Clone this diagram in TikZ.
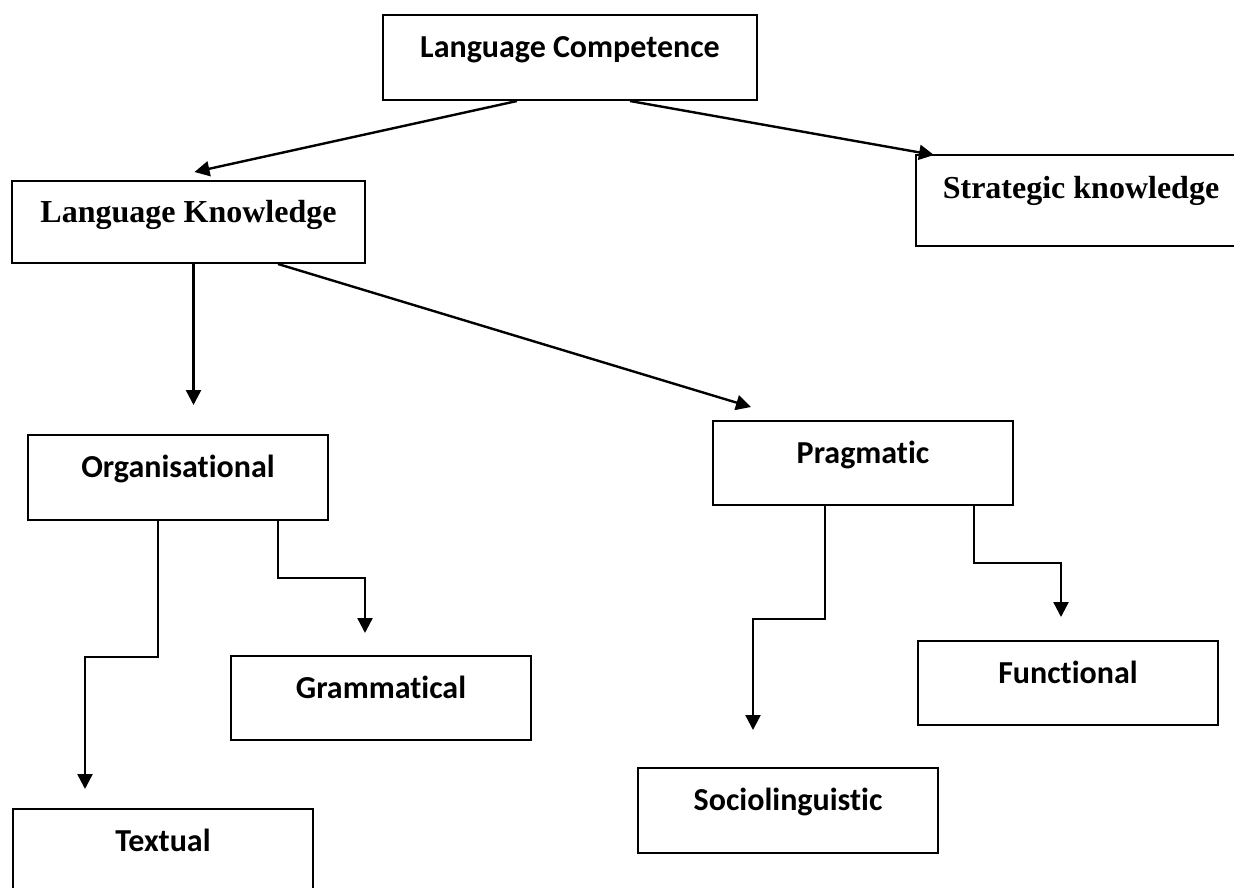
\documentclass[tikz,border=0pt]{standalone}
\usepackage{fontspec}
\setmainfont{Liberation Serif}
\newfontfamily\calfont[Ligatures=NoCommon]{Carlito}
\usetikzlibrary{arrows.meta}
\begin{document}
\begin{tikzpicture}[x=1pt,y=-1pt,
  box/.style={draw, line width=2pt, inner sep=0pt, anchor=north west,
    text height=42pt, text depth=43pt, align=center},
  calbox/.style={box, font=\calfont\bfseries\fontsize{32}{36}\selectfont},
  serbox/.style={box, font=\bfseries\fontsize{32}{36}\selectfont},
  arr/.style={line width=2.4pt, -{Triangle[length=15pt,width=15pt]}}]
\useasboundingbox[fill=white] (0,0) rectangle (1234,887);
\node[calbox, minimum width=374pt] (lc) at (382,14) {Language Competence};
\node[serbox, minimum width=353pt, text height=41pt, text depth=41pt] (lk) at (11,180) {Language Knowledge};
\node[serbox, minimum width=330pt, text height=43pt, text depth=48pt] (sk) at (915,154) {Strategic knowledge};
\node[calbox, minimum width=300pt] (org) at (27,434) {Organisat\kern0pt ional};
\node[calbox, minimum width=300pt, text depth=42pt] (prag) at (712,420) {Pragmat\kern0pt ic};
\node[calbox, minimum width=300pt, text depth=42pt] (gram) at (230,655) {Grammatical};
\node[calbox, minimum width=300pt, text depth=42pt] (func) at (917,640) {Functional};
\node[calbox, minimum width=300pt] (soc) at (637,767) {Sociolinguist\kern0pt ic};
\node[calbox, minimum width=300pt] (txt) at (12,808) {Textual};
\draw[arr] ([xshift=-53pt]lc.south) -- ([xshift=6pt,yshift=8pt]lk.north);
\draw[arr] ([xshift=60pt]lc.south) -- ([xshift=19pt,yshift=-1pt]sk.north west);
\draw[arr] ([xshift=5pt]lk.south) -- ([xshift=15.5pt,yshift=29pt]org.north);
\draw[arr] ([xshift=89.5pt]lk.south) -- ([xshift=-112pt,yshift=13pt]prag.north);
\draw[arr] ([xshift=-20pt]org.south) -- ++(0,136) -| ([xshift=-78pt,yshift=19pt]txt.north);
\draw[arr] ([xshift=100pt]org.south) -- ++(0,57) -| ([xshift=-16pt,yshift=22pt]gram.north);
\draw[arr] ([xshift=-38pt]prag.south) -- ++(0,113) -| ([xshift=-35pt,yshift=37pt]soc.north);
\draw[arr] ([xshift=111pt]prag.south) -- ++(0,57) -| ([xshift=-7pt,yshift=23pt]func.north);
\end{tikzpicture}
\end{document}
